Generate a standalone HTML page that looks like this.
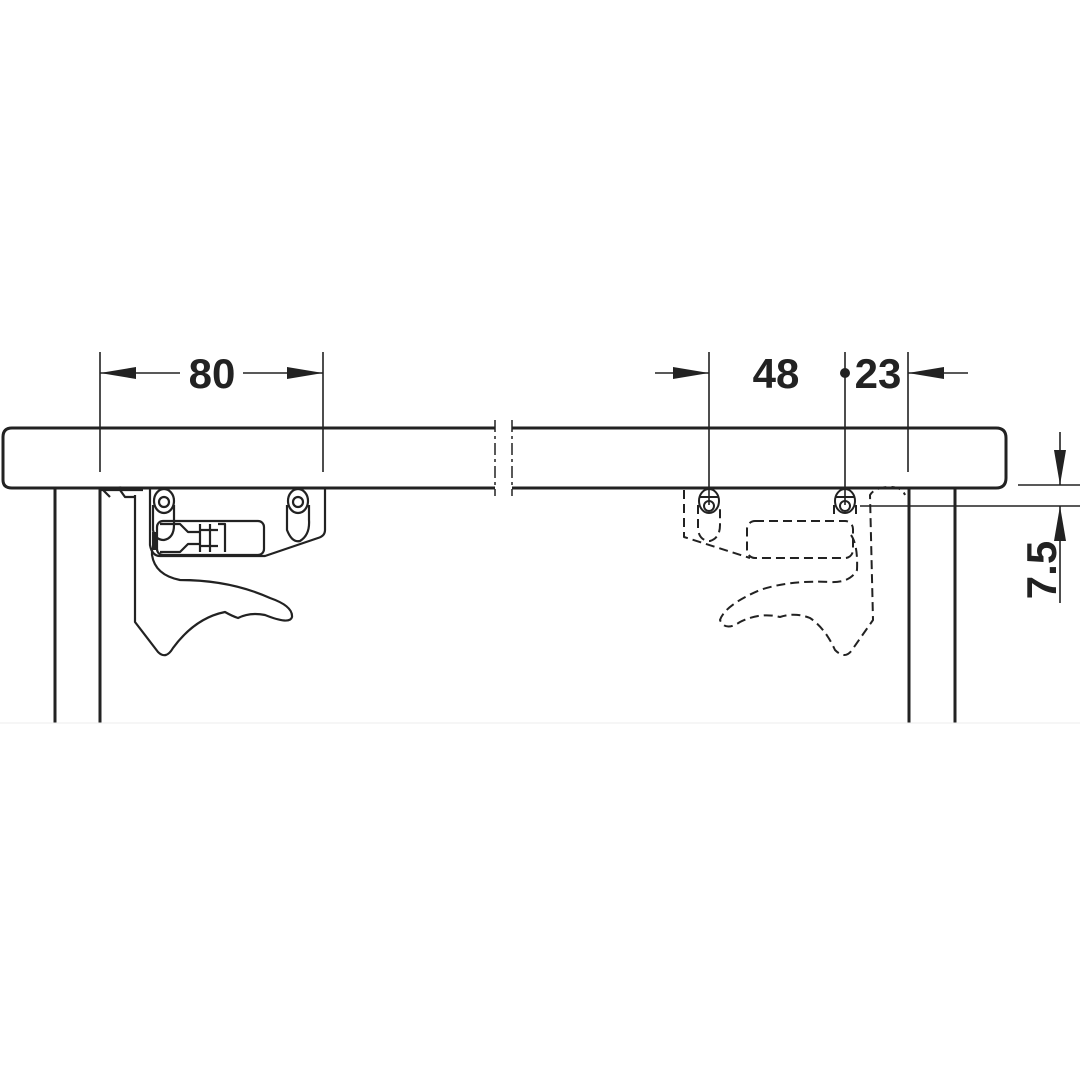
<!DOCTYPE html>
<html><head><style>html,body{margin:0;padding:0;background:#fff}svg{display:block}</style></head>
<body>
<svg width="1080" height="1080" viewBox="0 0 1080 1080" xmlns="http://www.w3.org/2000/svg">
<g fill="none" stroke="#222" stroke-width="3">
<path d="M495,428 H12 Q3,428 3,437 V480 Q3,488 12,488 H495"/>
<path d="M512,428 H996 Q1006,428 1006,438 V478 Q1006,488 996,488 H512"/>
<line x1="495" y1="420" x2="495" y2="496" stroke-width="1.5" stroke-dasharray="12,4,3,4"/>
<line x1="512" y1="420" x2="512" y2="496" stroke-width="1.5" stroke-dasharray="12,4,3,4"/>
<line x1="55" y1="488" x2="55" y2="723"/>
<line x1="100" y1="488" x2="100" y2="723"/>
<line x1="909" y1="488" x2="909" y2="723"/>
<line x1="955" y1="488" x2="955" y2="723"/>
</g>
<line x1="0" y1="723" x2="1080" y2="723" stroke="#eee" stroke-width="1"/>
<g stroke="#222" stroke-width="1.6" fill="none">
<line x1="100" y1="352" x2="100" y2="472"/>
<line x1="323" y1="352" x2="323" y2="472"/>
<line x1="100" y1="373" x2="180" y2="373"/>
<line x1="243" y1="373" x2="323" y2="373"/>
<line x1="709" y1="352" x2="709" y2="505"/>
<line x1="655" y1="373" x2="709" y2="373"/>
<line x1="845" y1="352" x2="845" y2="505"/>
<line x1="908" y1="352" x2="908" y2="472"/>
<line x1="908" y1="373" x2="968" y2="373"/>
<line x1="1018" y1="485" x2="1080" y2="485"/>
<line x1="860" y1="506" x2="1080" y2="506"/>
<line x1="1060" y1="432" x2="1060" y2="485"/>
<line x1="1060" y1="506" x2="1060" y2="603"/>
</g>
<g fill="#222">
<polygon points="100,373 136,367 136,379"/>
<polygon points="323,373 287,367 287,379"/>
<polygon points="709,373 673,367 673,379"/>
<polygon points="908,373 944,367 944,379"/>
<polygon points="1060,485 1054,450 1066,450"/>
<polygon points="1060,506 1054,541 1066,541"/>
<circle cx="845" cy="373" r="5"/>
</g>
<g font-family="Liberation Sans, sans-serif" font-weight="bold" font-size="42" fill="#222">
<text x="212" y="388" text-anchor="middle">80</text>
<text x="776" y="388" text-anchor="middle">48</text>
<text x="878" y="388" text-anchor="middle">23</text>
<text transform="translate(1056,570) rotate(-90)" text-anchor="middle">7.5</text>
</g>
<g fill="none" stroke="#222" stroke-width="2.2" stroke-linejoin="round">
<path d="M100,490 H143 M103,490 L110,497 M120,490 L125,497 L135,497 M112,490 Q120,485 130,490"/>
<path d="M135,495 V622 L158,652 Q166,660 173,648 Q195,618 225,612 Q232,616 238,618 Q250,612 265,615 Q290,625 292,617 Q293,606 270,598 Q230,580 180,580 Q155,575 152,555 V548"/>
<path d="M150,488 V545 Q152,556 160,556 H265 L318,538 Q325,536 325,530 V488"/>
<rect x="157" y="521" width="107" height="34" rx="6"/>
<path d="M160,524 H180 L188,532 H200 M160,552 H180 L188,544 H200 M200,524 V552 M210,524 V552 M218,524 H225 V552 M200,530 H218 M200,546 H218"/>
<ellipse cx="164" cy="501" rx="10" ry="12"/>
<circle cx="164" cy="502" r="5"/>
<path d="M153,505 V530 Q155,540 164,540 Q174,538 174,525 V505"/>
<ellipse cx="298" cy="501" rx="10" ry="12"/>
<circle cx="298" cy="502" r="5"/>
<path d="M287,505 V530 Q292,543 300,541 Q310,535 309,520 V505"/>
<path d="M154,532 V550" stroke-width="4"/>
</g>
<g fill="none" stroke="#222" stroke-width="2" stroke-dasharray="9,5" stroke-linejoin="round">
<path d="M684,490 V537 L750,558"/>
<rect x="747" y="521" width="106" height="37" rx="8"/>
<path d="M851,535 Q858,545 857,570 Q850,583 830,582 Q790,580 760,590 Q725,605 720,620 Q725,632 740,622 Q760,612 780,617 Q795,612 810,618 Q825,628 835,650 Q845,660 852,650 L873,620 L870,495 Q875,487 890,487 Q902,487 905,495"/>
<path d="M698,505 V530 Q700,541 710,541 Q720,538 720,525 V505"/>
<path d="M834,505 V515 M856,505 V515"/>
</g>
<g fill="none" stroke="#222" stroke-width="2">
<ellipse cx="709" cy="501" rx="10" ry="12"/>
<circle cx="709" cy="506" r="5"/>
<line x1="699" y1="497" x2="719" y2="497"/>
<ellipse cx="845" cy="501" rx="10" ry="12"/>
<circle cx="845" cy="506" r="5"/>
<line x1="835" y1="497" x2="855" y2="497"/>
</g>
</svg>
</body></html>
